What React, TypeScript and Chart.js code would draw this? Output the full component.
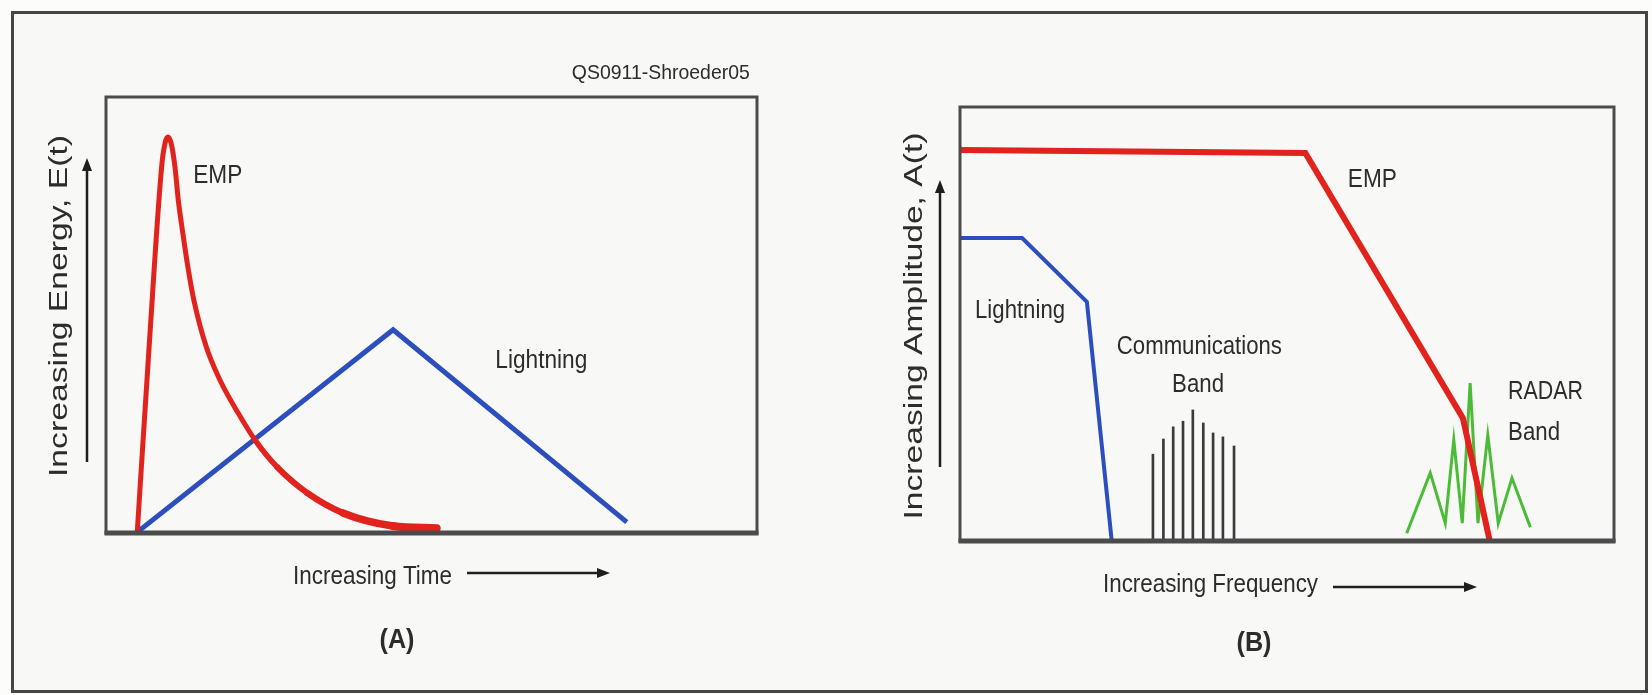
import React, { useEffect, useRef } from "react";
import { Chart, registerables } from "chart.js";

Chart.register(...registerables);

// ---------- Panel A: energy vs time ----------
const empTime = [4.8, 6.7, 8.6, 9.1, 9.5, 10.0, 10.6, 11.1, 11.8, 12.6, 13.5, 15.4, 17.5, 20.3, 22.9, 26.3, 30.9, 36.4, 44.1, 50.8];
const empEnergy = [0.2, 44.5, 84.8, 89.6, 90.8, 89.4, 83.9, 76.4, 68.8, 60.8, 53.4, 42.7, 35.1, 27.5, 21.3, 15.1, 9.2, 4.6, 1.6, 1.1];
const lightningTime = [4.8, 44.1, 80.0];
const lightningEnergy = [0.2, 46.6, 2.5];

// ---------- Panel B: amplitude vs frequency ----------
const empFreq = [0, 52.8, 76.9, 81.0];
const empAmplitude = [90.1, 89.4, 28.3, 0];
const lightningFreq = [0, 9.5, 19.4, 23.2];
const lightningAmplitude = [69.8, 69.8, 55.1, 0];
const commFreq = [29.5, 31.1, 32.6, 34.1, 35.6, 37.2, 38.7, 40.2, 41.9];
const commAmplitude = [20.0, 23.5, 26.3, 27.6, 30.2, 27.2, 24.9, 24.0, 21.9];
const radarFreq = [68.3, 71.9, 74.2, 75.5, 76.8, 78.0, 79.2, 80.7, 82.3, 84.4, 87.2];
const radarAmplitude = [1.8, 15.7, 4.1, 23.3, 4.1, 36.4, 4.1, 24.4, 4.1, 14.5, 3.2];

const axisMin = 0;
const axisMax = 100;

// ---------- styles ----------
const RED = "#e1221d";
const BLUE = "#2c4fbd";
const GREEN = "#4cbb38";
const BAR = "#3a3a3a";
const INK = "#2c2c2c";
const BOX = "#4b4b4b";
const FONT = '"Liberation Sans", Arial, Helvetica, sans-serif';
const empTailWidths = [5, 5, 5, 5, 5, 5, 5, 5, 5, 5, 5, 5, 5, 5, 5, 5.5, 6, 6.5, 7.5, 8];

type TextOpt = { size: number; width?: number; align?: CanvasTextAlign; bold?: boolean; rotate?: number };

function drawText(ctx: CanvasRenderingContext2D, text: string, px: number, py: number, o: TextOpt) {
  ctx.save();
  ctx.font = `${o.bold ? "bold " : ""}${o.size}px ${FONT}`;
  ctx.fillStyle = INK;
  ctx.textBaseline = "middle";
  ctx.textAlign = o.align || "left";
  const w = ctx.measureText(text).width;
  const sx = o.width ? o.width / w : 1;
  ctx.translate(px, py);
  if (o.rotate) ctx.rotate(o.rotate);
  ctx.scale(sx, 1);
  ctx.fillText(text, 0, 0);
  ctx.restore();
}

function arrow(ctx: CanvasRenderingContext2D, x1: number, y1: number, x2: number, y2: number) {
  const ang = Math.atan2(y2 - y1, x2 - x1);
  const head = 13;
  const half = 5;
  ctx.save();
  ctx.strokeStyle = "#1e1e1e";
  ctx.fillStyle = "#1e1e1e";
  ctx.lineWidth = 2.5;
  ctx.beginPath();
  ctx.moveTo(x1, y1);
  ctx.lineTo(x2 - Math.cos(ang) * head, y2 - Math.sin(ang) * head);
  ctx.stroke();
  ctx.beginPath();
  ctx.moveTo(x2, y2);
  ctx.lineTo(x2 - Math.cos(ang) * head - Math.sin(ang) * half, y2 - Math.sin(ang) * head + Math.cos(ang) * half);
  ctx.lineTo(x2 - Math.cos(ang) * head + Math.sin(ang) * half, y2 - Math.sin(ang) * head - Math.cos(ang) * half);
  ctx.closePath();
  ctx.fill();
  ctx.restore();
}

type InnerLabel = { text: string; x: number; y: number } & TextOpt;
type Decor = {
  yTitle: string; yTitleDx: number; yTitleY: number; yTitleW: number;
  yArrowDx: number; yArrowTop: number; yArrowBottom: number;
  xTitle: string; xTitleDx: number; xTitleDy: number; xTitleW: number;
  xArrowFrom: number; xArrowTo: number; xArrowDy: number;
  letter: string; letterDx: number; letterDy: number;
  inner: InnerLabel[];
};

function makeDecor(cfg: Decor) {
  return {
    id: "decor",
    afterDatasetsDraw(chart: any) {
      const { ctx, chartArea: a, scales } = chart;
      const sx = scales.x;
      const sy = scales.y;
      ctx.save();
      ctx.strokeStyle = BOX;
      ctx.lineWidth = 3;
      ctx.strokeRect(a.left, a.top, a.right - a.left, a.bottom - a.top);
      ctx.lineWidth = 5;
      ctx.beginPath();
      ctx.moveTo(a.left - 1.5, a.bottom);
      ctx.lineTo(a.right + 1.5, a.bottom);
      ctx.stroke();
      ctx.restore();

      // y axis arrow + title
      arrow(ctx, a.left + cfg.yArrowDx, a.bottom - cfg.yArrowBottom, a.left + cfg.yArrowDx, a.top + cfg.yArrowTop);
      drawText(ctx, cfg.yTitle, a.left + cfg.yTitleDx, a.top + cfg.yTitleY, {
        size: 25, width: cfg.yTitleW, align: "center", rotate: -Math.PI / 2,
      });
      // x title + arrow
      drawText(ctx, cfg.xTitle, a.left + cfg.xTitleDx, a.bottom + cfg.xTitleDy, { size: 26, width: cfg.xTitleW });
      arrow(ctx, a.left + cfg.xArrowFrom, a.bottom + cfg.xArrowDy, a.left + cfg.xArrowTo, a.bottom + cfg.xArrowDy);
      // panel letter
      drawText(ctx, cfg.letter, a.left + cfg.letterDx, a.bottom + cfg.letterDy, { size: 28, width: 35, bold: true, align: "center" });
      // labels placed in data coordinates
      for (const l of cfg.inner) {
        drawText(ctx, l.text, sx.getPixelForValue(l.x), sy.getPixelForValue(l.y), l);
      }
    },
  };
}

const pts = (xs: number[], ys: number[]) => xs.map((x, i) => ({ x, y: ys[i] }));

function baseOptions(padding: any) {
  return {
    responsive: false,
    maintainAspectRatio: false,
    animation: false as const,
    events: [] as any[],
    layout: { padding },
    plugins: { legend: { display: false }, tooltip: { enabled: false }, title: { display: false } },
    scales: {
      x: { type: "linear" as const, min: axisMin, max: axisMax, display: false, offset: false },
      y: { type: "linear" as const, min: axisMin, max: axisMax, display: false },
    },
  };
}

const decorA: Decor = {
  yTitle: "Increasing Energy, E(t)", yTitleDx: -46, yTitleY: 209, yTitleW: 342,
  yArrowDx: -19, yArrowTop: 61, yArrowBottom: 71,
  xTitle: "Increasing Time", xTitleDx: 187, xTitleDy: 44, xTitleW: 159,
  xArrowFrom: 361, xArrowTo: 504, xArrowDy: 40,
  letter: "(A)", letterDx: 291, letterDy: 107,
  inner: [
    { text: "EMP", x: 13.4, y: 81.9, size: 26, width: 49 },
    { text: "Lightning", x: 59.8, y: 39.4, size: 26, width: 92 },
    { text: "QS0911-Shroeder05", x: 98.9, y: 105.5, size: 21, width: 178, align: "right" },
  ],
};

const decorB: Decor = {
  yTitle: "Increasing Amplitude, A(t)", yTitleDx: -45, yTitleY: 219, yTitleW: 387,
  yArrowDx: -20, yArrowTop: 73, yArrowBottom: 74,
  xTitle: "Increasing Frequency", xTitleDx: 143, xTitleDy: 44, xTitleW: 215,
  xArrowFrom: 373, xArrowTo: 517, xArrowDy: 46,
  letter: "(B)", letterDx: 294, letterDy: 102,
  inner: [
    { text: "EMP", x: 59.3, y: 83.2, size: 26, width: 49 },
    { text: "Lightning", x: 2.3, y: 53.0, size: 26, width: 90 },
    { text: "Communications", x: 36.6, y: 44.7, size: 26, width: 165, align: "center" },
    { text: "Band", x: 36.4, y: 35.9, size: 26, width: 52, align: "center" },
    { text: "RADAR", x: 83.8, y: 34.3, size: 26, width: 75 },
    { text: "Band", x: 83.8, y: 24.9, size: 26, width: 52 },
  ],
};

export default function App() {
  const refA = useRef<HTMLCanvasElement>(null);
  const refB = useRef<HTMLCanvasElement>(null);

  useEffect(() => {
    const charts: Chart[] = [];
    if (refA.current) {
      charts.push(
        new Chart(refA.current, {
          type: "line",
          data: {
            datasets: [
              {
                label: "EMP",
                data: pts(empTime, empEnergy),
                borderColor: RED,
                borderWidth: 5,
                pointRadius: 0,
                fill: false,
                cubicInterpolationMode: "monotone",
                borderCapStyle: "round",
                borderJoinStyle: "round",
                segment: { borderWidth: (c: any) => empTailWidths[c.p1DataIndex] ?? 5 },
              } as any,
              {
                label: "Lightning",
                data: pts(lightningTime, lightningEnergy),
                borderColor: BLUE,
                borderWidth: 5,
                pointRadius: 0,
                fill: false,
                tension: 0,
              },
            ],
          },
          options: baseOptions({ left: 106, top: 97, right: 73, bottom: 162 }) as any,
          plugins: [makeDecor(decorA)],
        })
      );
    }
    if (refB.current) {
      charts.push(
        new Chart(refB.current, {
          type: "line",
          data: {
            datasets: [
              {
                label: "EMP",
                data: pts(empFreq, empAmplitude),
                borderColor: RED,
                borderWidth: 6,
                pointRadius: 0,
                fill: false,
                tension: 0,
              },
              {
                label: "Lightning",
                data: pts(lightningFreq, lightningAmplitude),
                borderColor: BLUE,
                borderWidth: 4,
                pointRadius: 0,
                fill: false,
                tension: 0,
              },
              {
                label: "RADAR Band",
                data: pts(radarFreq, radarAmplitude),
                borderColor: GREEN,
                borderWidth: 3,
                pointRadius: 0,
                fill: false,
                tension: 0,
              },
              {
                type: "bar",
                label: "Communications Band",
                data: pts(commFreq, commAmplitude),
                backgroundColor: BAR,
                borderWidth: 0,
                barThickness: 2,
              } as any,
            ],
          },
          options: baseOptions({ left: 130, top: 107, right: 38, bottom: 154 }) as any,
          plugins: [makeDecor(decorB)],
        })
      );
    }
    return () => charts.forEach((c) => c.destroy());
  }, []);

  return (
    <div style={{ position: "absolute", left: 0, top: 0, width: 1652, height: 695, background: "#fcfcfb", overflow: "hidden" }}>
      <div
        style={{
          position: "absolute", left: 11, top: 11, width: 1637, height: 682,
          boxSizing: "border-box", border: "3px solid #454545", background: "#f8f8f6",
        }}
      />
      <canvas ref={refA} width={830} height={695} style={{ position: "absolute", left: 0, top: 0, width: 830, height: 695 }} />
      <canvas ref={refB} width={822} height={695} style={{ position: "absolute", left: 830, top: 0, width: 822, height: 695 }} />
    </div>
  );
}
